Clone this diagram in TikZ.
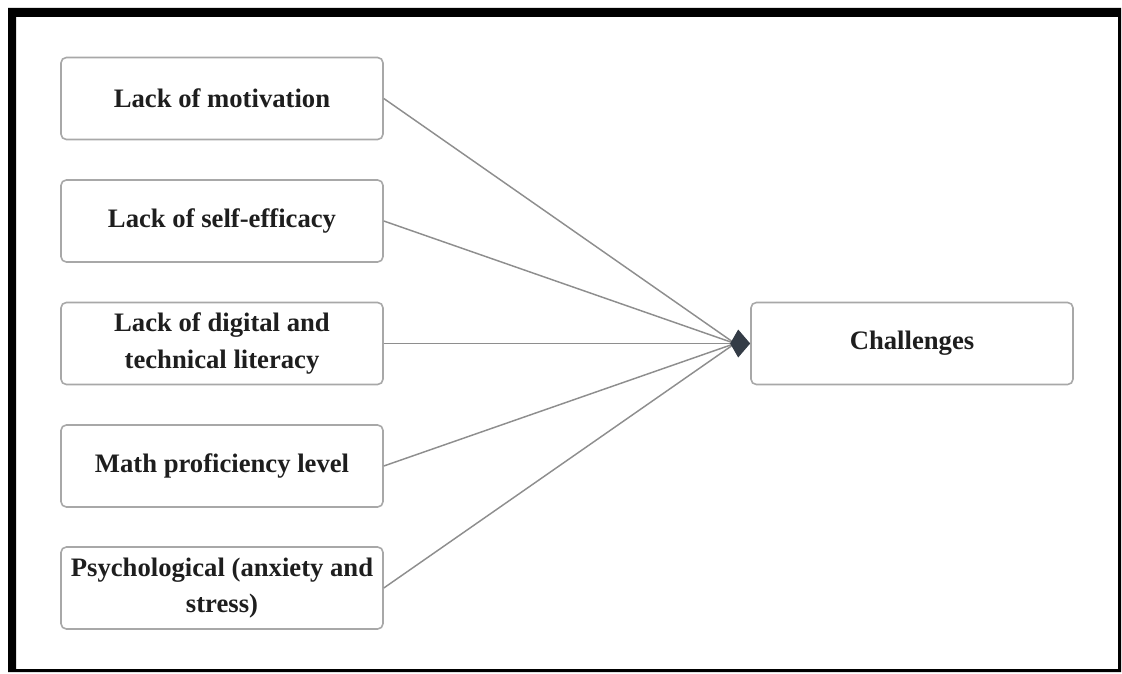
\documentclass[tikz,border=0pt]{standalone}
\usepackage{fontspec}
\setmainfont{Liberation Serif}
\usetikzlibrary{arrows.meta}
\definecolor{box-edge}{HTML}{A8A8A8}
\definecolor{link-gray}{HTML}{8E8E8E}
\definecolor{tip-dark}{HTML}{343C46}
\definecolor{label-ink}{HTML}{1E1E1E}

\tikzset{
  factor/.style={draw=box-edge, line width=1.2pt, rounded corners=4pt,
    minimum width=241.5pt, minimum height=61.5pt, align=center,
    inner sep=2pt, text=label-ink,
    font=\fontsize{20}{27.5}\selectfont\bfseries},
  link/.style={draw=link-gray, line width=1.1pt}
}

\begin{document}
\begin{tikzpicture}[x=0.75pt, y=-0.75pt]
    % Diagram: five factors on the left feeding one outcome box.
    % Coordinates in pixels (x, y down):
    %   frame from (8,8) to (1121,672)
    %   factor boxes centred at x=222, y=98.5 .. 588, step 122.5
    %   outcome box centred at (912,343.5)
    \useasboundingbox (0,0) rectangle (1122,674);
    \fill[black, even odd rule] (8,8) rectangle (1121,672)
      (16,17) rectangle (1118,669);

    \node[factor] (motiv) at (222,98.5) {Lack of motivation};
    \node[factor] (effic) at (222,221) {Lack of self-efficacy};
    \node[factor] (digit) at (222,343.5) {Lack of digital and\\ technical literacy};
    \node[factor] (mathp) at (222,466) {Math proficiency level};
    \node[factor] (psych) at (222,588) {Psychological (anxiety and\\ stress)};

    \node[factor] (chal) at (912,343.5) {Challenges};
    \coordinate (hub) at (735,343.5);

    \foreach \f in {motiv, effic, mathp, psych}
      \draw[link] (\f.east) -- (hub);
    \draw[link, -{Kite[length=15pt, width=21pt, inset=6pt, fill=tip-dark, color=tip-dark]}]
      (digit.east) -- (chal.west);
\end{tikzpicture}
\end{document}
